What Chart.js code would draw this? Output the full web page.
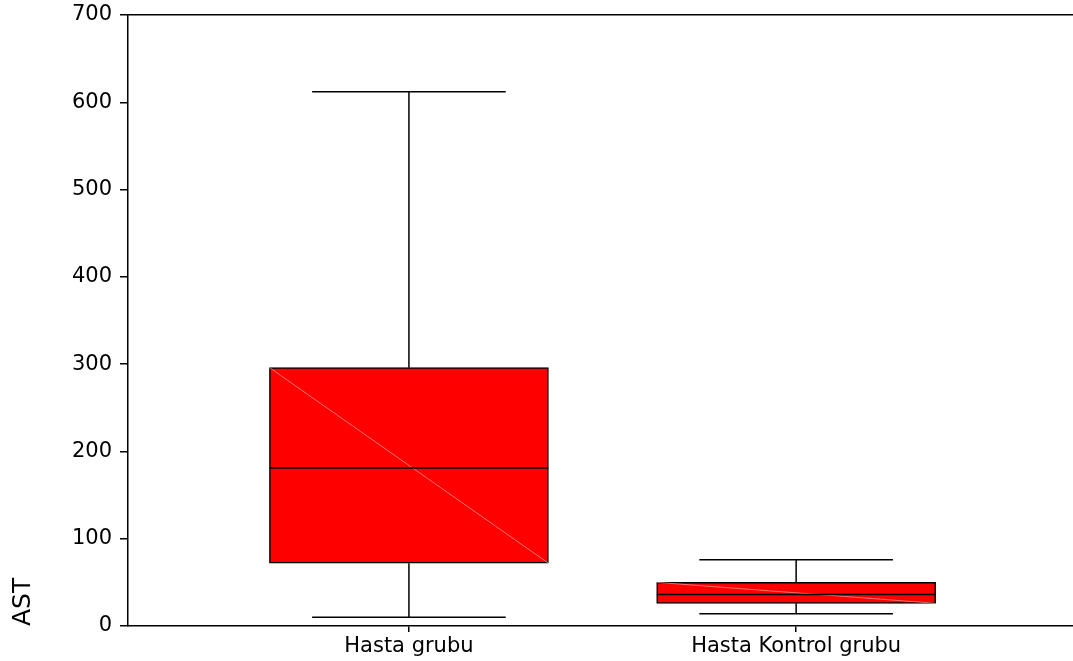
<!DOCTYPE html>
<html>
<head>
<meta charset="utf-8">
<title>AST</title>
<script src="https://cdn.jsdelivr.net/npm/chart.js@4/dist/chart.umd.min.js"></script>
<style>
    html, body { margin: 0; padding: 0; background: #fff; }
    #wrap { width: 1073px; height: 661px; }
</style>
</head>
<body>
<div id="wrap"><canvas id="box-chart"></canvas></div>
<script>
// Box plot values
const categories = ['Hasta grubu', 'Hasta Kontrol grubu'];
const positions = [1, 2];
const whiskerLow = [10, 14];
const q1Values = [72, 26];
const medianValues = [181, 36];
const q3Values = [296, 50];
const whiskerHigh = [612, 76];
const yTicks = [0, 100, 200, 300, 400, 500, 600, 700];

const BOX_HALF = 0.36;
const CAP_HALF = 0.25;
const X_MIN = 0.2745;
const X_MAX = 2.715;
const FONT = { family: '"DejaVu Sans", sans-serif', size: 21 };

function segment(x1, y1, x2, y2, color, width) {
    return {
        type: 'line',
        data: [{ x: x1, y: y1 }, { x: x2, y: y2 }],
        borderColor: color,
        borderWidth: width,
        pointRadius: 0,
        fill: false,
        order: 0
    };
}

function buildDatasets() {
    const datasets = [{
        type: 'bar',
        label: 'IQR',
        data: positions.map((p, i) => ({ x: p, y: [q1Values[i], q3Values[i]] })),
        backgroundColor: '#ff0000',
        borderColor: '#000000',
        borderWidth: 1.5,
        borderSkipped: false,
        barThickness: 279,
        order: 2
    }];

    positions.forEach((p, i) => {
        // faint diagonal seen across the boxes
        const diag = segment(p - BOX_HALF, q3Values[i], p + BOX_HALF, q1Values[i], 'rgba(255,160,160,0.7)', 1);
        diag.order = 1;
        datasets.push(diag);
        datasets.push(segment(p, q3Values[i], p, whiskerHigh[i], '#000', 1.5));
        datasets.push(segment(p, whiskerLow[i], p, q1Values[i], '#000', 1.5));
        datasets.push(segment(p - CAP_HALF, whiskerHigh[i], p + CAP_HALF, whiskerHigh[i], '#000', 1.5));
        datasets.push(segment(p - CAP_HALF, whiskerLow[i], p + CAP_HALF, whiskerLow[i], '#000', 1.5));
        datasets.push(segment(p - BOX_HALF, medianValues[i], p + BOX_HALF, medianValues[i], '#000', 1.5));
    });
    return datasets;
}

const ctx = document.getElementById('box-chart').getContext('2d');
const boxChart = new Chart(ctx, {
    data: { datasets: buildDatasets() },
    options: {
        responsive: true,
        maintainAspectRatio: false,
        animation: false,
        layout: { padding: { top: 15, left: 8, right: 0, bottom: 0 } },
        plugins: {
            legend: { display: false },
            tooltip: { enabled: false }
        },
        scales: {
            x: {
                type: 'linear',
                position: 'bottom',
                offset: false,
                min: X_MIN,
                max: X_MAX,
                afterBuildTicks: (scale) => {
                    scale.ticks = positions.map(v => ({ value: v }));
                },
                afterFit: (scale) => { scale.height = 35; },
                ticks: {
                    autoSkip: false,
                    maxRotation: 0,
                    padding: 2,
                    color: '#000',
                    font: FONT,
                    callback: (v) => categories[positions.indexOf(v)]
                },
                grid: { offset: false, drawOnChartArea: false, tickLength: 6, color: '#000', lineWidth: 1.5 },
                border: { color: '#000', width: 1.5 }
            },
            x2: {
                type: 'linear',
                position: 'top',
                offset: false,
                min: X_MIN,
                max: X_MAX,
                afterFit: (scale) => { scale.height = 0; },
                ticks: { display: false },
                grid: { offset: false, drawOnChartArea: false, drawTicks: false },
                border: { color: '#000', width: 1.5 }
            },
            y: {
                type: 'linear',
                min: 0,
                max: 700,
                afterBuildTicks: (scale) => {
                    scale.ticks = yTicks.map(v => ({ value: v }));
                },
                afterFit: (scale) => {
                    scale.width = 120;
                    // keep the plot top at the 700 label, not pushed down by its padding
                    scale.paddingTop = 0;
                    scale.paddingBottom = 0;
                },
                title: {
                    display: true,
                    text: 'AST',
                    align: 'start',
                    color: '#000',
                    font: { family: FONT.family, size: 25 },
                    padding: { top: 0, bottom: 0 }
                },
                ticks: { padding: 8, color: '#000', font: FONT },
                grid: { drawOnChartArea: false, tickLength: 8, color: '#000', lineWidth: 1.5 },
                border: { color: '#000', width: 1.5 }
            }
        }
    }
});
</script>
</body>
</html>
